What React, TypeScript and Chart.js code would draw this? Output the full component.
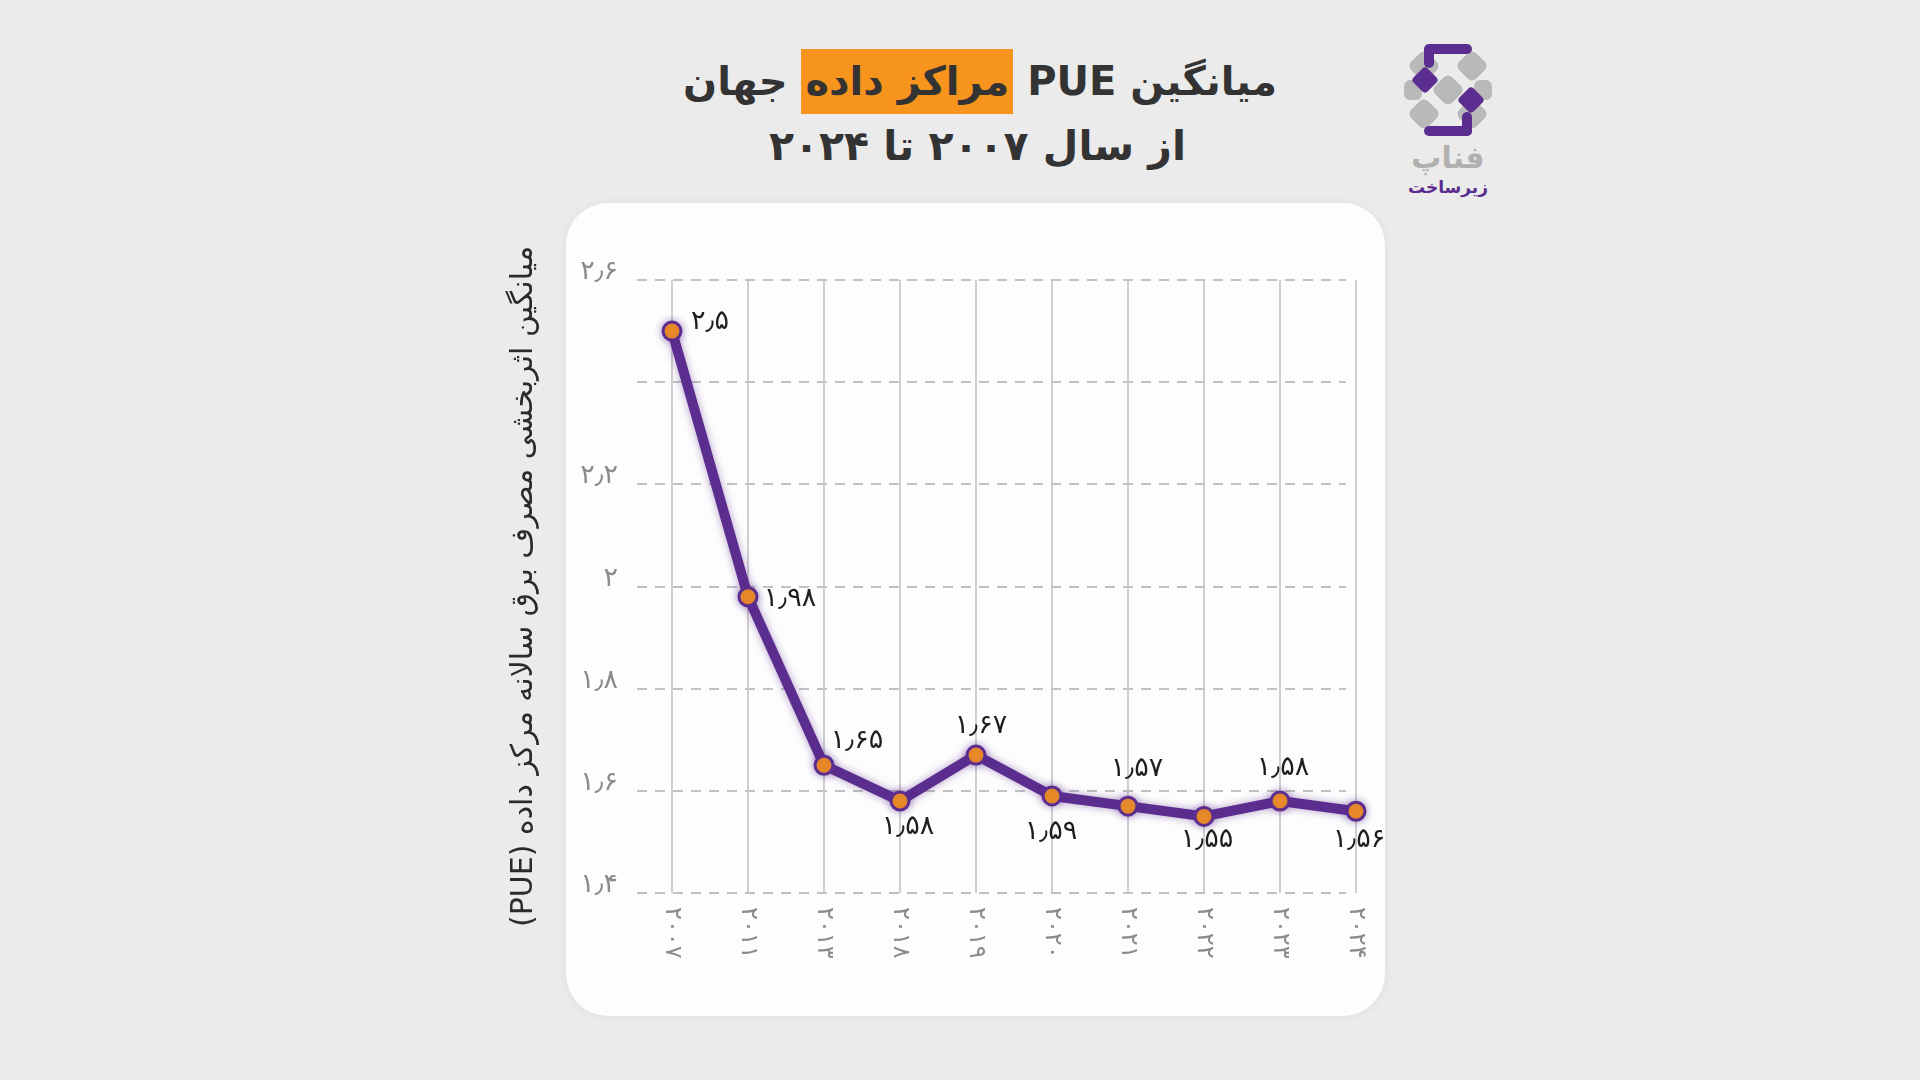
import React, { useEffect, useRef } from 'react';
import { Chart, registerables } from 'chart.js';

Chart.register(...registerables);

// ---------- data ----------
const years = ['2007', '2011', '2013', '2018', '2019', '2020', '2021', '2022', '2023', '2024'];
const pueValues = [2.5, 1.98, 1.65, 1.58, 1.67, 1.59, 1.57, 1.55, 1.58, 1.56];
const yTickValues = [1.4, 1.6, 1.8, 2, 2.2, 2.6];
const yGridValues = [1.4, 1.6, 1.8, 2, 2.2, 2.4, 2.6];
const yMin = 1.4;
const yMax = 2.6;

const titleLine1Start = 'میانگین PUE ';
const titleHighlight = 'مراکز داده';
const titleLine1End = ' جهان';
const titleLine2 = 'از سال ۲۰۰۷ تا ۲۰۲۴';
const yAxisTitle = 'میانگین اثربخشی مصرف برق سالانه مرکز داده (PUE)';
const logoName = 'فناپ';
const logoSub = 'زیرساخت';

// ---------- style ----------
const FONT = '"DejaVu Sans", sans-serif';
const PURPLE = '#5b2d8f';
const ORANGE = '#f7941d';
// value-label placement (px, relative to the point)
const LABEL_OFFSETS: [number, number][] = [
  [38, -9], [42, 2], [33, -24], [8, 26], [5, -29], [-1, 36], [9, -37], [3, 24], [3, -33], [3, 29],
];

const toFa = (s: string) =>
  s.replace(/[0-9]/g, (d) => '۰۱۲۳۴۵۶۷۸۹'[Number(d)]).replace(/\./g, '٫');

const decorPlugin = {
  id: 'decor',
  beforeDatasetsDraw(chart: any) {
    const { ctx, chartArea, scales } = chart;
    const y = scales.y;
    ctx.save();
    ctx.strokeStyle = '#c2c2c2';
    ctx.lineWidth = 2;
    ctx.setLineDash([10, 8]);
    for (const v of yGridValues) {
      const py = Math.round(y.getPixelForValue(v));
      ctx.beginPath();
      ctx.moveTo(chartArea.left - 35, py);
      ctx.lineTo(chartArea.right - 10, py);
      ctx.stroke();
    }
    ctx.restore();
  },
  beforeDatasetDraw(chart: any) {
    const ctx = chart.ctx;
    ctx.save();
    ctx.shadowColor = 'rgba(91,45,143,0.45)';
    ctx.shadowBlur = 8;
  },
  afterDatasetDraw(chart: any) {
    chart.ctx.restore();
  },
  afterDatasetsDraw(chart: any) {
    const { ctx, chartArea, scales } = chart;
    const meta = chart.getDatasetMeta(0);
    ctx.save();
    // value labels
    ctx.font = `27px ${FONT}`;
    ctx.fillStyle = '#1e1e1e';
    ctx.textAlign = 'center';
    ctx.textBaseline = 'middle';
    meta.data.forEach((pt: any, i: number) => {
      const [dx, dy] = LABEL_OFFSETS[i] || [0, -25];
      ctx.fillText(toFa(String(pueValues[i])), pt.x + dx, pt.y + dy);
    });
    // x labels, rotated clockwise
    ctx.font = `24px ${FONT}`;
    ctx.fillStyle = '#8a8a8a';
    ctx.textAlign = 'left';
    ctx.textBaseline = 'middle';
    years.forEach((yr, i) => {
      const x = scales.x.getPixelForTick(i);
      ctx.save();
      ctx.translate(x, chartArea.bottom + 14);
      ctx.rotate(Math.PI / 2);
      ctx.fillText(toFa(yr), 0, 0);
      ctx.restore();
    });
    ctx.restore();
  },
};

function Logo() {
  return (
    <div style={{ position: 'absolute', left: 1398, top: 40, width: 100, height: 170 }}>
      <svg width="100" height="100" viewBox="0 0 100 100" style={{ position: 'absolute', left: 0, top: 0 }}>
        <g fill="#b9b9b9">
          <rect x="14" y="14" width="24" height="24" rx="6" transform="rotate(45 26 26)" />
          <rect x="62" y="14" width="24" height="24" rx="6" transform="rotate(45 74 26)" />
          <rect x="14" y="62" width="24" height="24" rx="6" transform="rotate(45 26 74)" />
          <rect x="62" y="62" width="24" height="24" rx="6" transform="rotate(45 74 74)" />
          <rect x="38" y="38" width="24" height="24" rx="6" transform="rotate(45 50 50)" />
          <rect x="6" y="40" width="18" height="20" rx="6" />
          <rect x="76" y="40" width="18" height="20" rx="6" />
        </g>
        <g fill={PURPLE}>
          <rect x="28" y="4" width="46" height="10" rx="5" />
          <rect x="26" y="4" width="10" height="24" rx="5" />
          <rect x="17" y="30" width="20" height="20" rx="4" transform="rotate(45 27 40)" />
          <rect x="63" y="50" width="20" height="20" rx="4" transform="rotate(45 73 60)" />
          <rect x="64" y="72" width="10" height="24" rx="5" />
          <rect x="26" y="86" width="48" height="10" rx="5" />
        </g>
      </svg>
      <div
        dir="rtl"
        style={{
          position: 'absolute', left: 0, top: 100, width: 100, textAlign: 'center',
          fontFamily: FONT, fontWeight: 'bold', fontSize: 30, color: '#b0b0b0', lineHeight: '36px',
        }}
      >
        {logoName}
      </div>
      <div
        dir="rtl"
        style={{
          position: 'absolute', left: 0, top: 136, width: 100, textAlign: 'center',
          fontFamily: FONT, fontSize: 17, color: PURPLE, lineHeight: '22px', fontWeight: 'bold',
        }}
      >
        {logoSub}
      </div>
    </div>
  );
}

export default function App() {
  const canvasRef = useRef<HTMLCanvasElement | null>(null);

  useEffect(() => {
    document.body.style.margin = '0';
    const canvas = canvasRef.current;
    if (!canvas) return;
    const chart = new Chart(canvas, {
      type: 'line',
      data: {
        labels: years.map(toFa),
        datasets: [
          {
            data: pueValues,
            borderColor: PURPLE,
            borderWidth: 10,
            borderJoinStyle: 'round',
            borderCapStyle: 'round',
            tension: 0,
            pointRadius: 9,
            pointBackgroundColor: ORANGE,
            pointBorderColor: PURPLE,
            pointBorderWidth: 3,
            clip: false,
          } as any,
        ],
      },
      options: {
        animation: false,
        responsive: false,
        devicePixelRatio: 1,
        layout: { padding: { left: 0, right: 44, top: 77, bottom: 0 } },
        plugins: { legend: { display: false }, tooltip: { enabled: false } },
        scales: {
          x: {
            type: 'category',
            offset: false,
            grid: { color: '#cfcfcf', lineWidth: 2, drawTicks: false },
            border: { display: false },
            ticks: { display: false },
            afterFit: (scale: any) => {
              scale.height = 123;
            },
          },
          y: {
            type: 'linear',
            min: yMin,
            max: yMax,
            grid: { display: false, drawTicks: false },
            border: { display: false },
            afterBuildTicks: (scale: any) => {
              scale.ticks = yTickValues.map((v) => ({ value: v }));
            },
            afterFit: (scale: any) => {
              scale.width = 192;
            },
            ticks: {
              padding: 54,
              labelOffset: -8,
              color: '#8c8c8c',
              font: { family: FONT, size: 27 },
              callback: (v: any) => toFa(String(Math.round(Number(v) * 100) / 100)),
            },
            title: {
              display: true,
              text: yAxisTitle,
              color: '#2b2b2b',
              font: { family: FONT, size: 30 },
              padding: { top: 26, bottom: 0 },
            },
          },
        },
      },
      plugins: [decorPlugin],
    });
    return () => chart.destroy();
  }, []);

  return (
    <div
      style={{
        position: 'fixed', left: 0, top: 0, width: 1920, height: 1080,
        background: '#ebebeb', overflow: 'hidden', fontFamily: FONT,
      }}
    >
      <div
        dir="rtl"
        style={{
          position: 'absolute', left: 0, top: 46, width: 1960, textAlign: 'center',
          fontSize: 40, fontWeight: 'bold', color: '#333', lineHeight: '70px', whiteSpace: 'nowrap',
        }}
      >
        {titleLine1Start}
        <span style={{ background: ORANGE, padding: '9px 4px 10px 4px' }}>{titleHighlight}</span>
        {titleLine1End}
      </div>
      <div
        dir="rtl"
        style={{
          position: 'absolute', left: 0, top: 116, width: 1955, textAlign: 'center',
          fontSize: 41, fontWeight: 'bold', color: '#333', lineHeight: '60px', whiteSpace: 'nowrap',
        }}
      >
        {titleLine2}
      </div>
      <Logo />
      <div
        style={{
          position: 'absolute', left: 566, top: 203, width: 819, height: 813,
          background: '#fdfdfd', borderRadius: 42, boxShadow: '0 0 10px rgba(0,0,0,0.06)',
        }}
      />
      <canvas
        ref={canvasRef}
        width={920}
        height={813}
        style={{ position: 'absolute', left: 480, top: 203, width: 920, height: 813, direction: 'rtl' }}
      />
    </div>
  );
}
